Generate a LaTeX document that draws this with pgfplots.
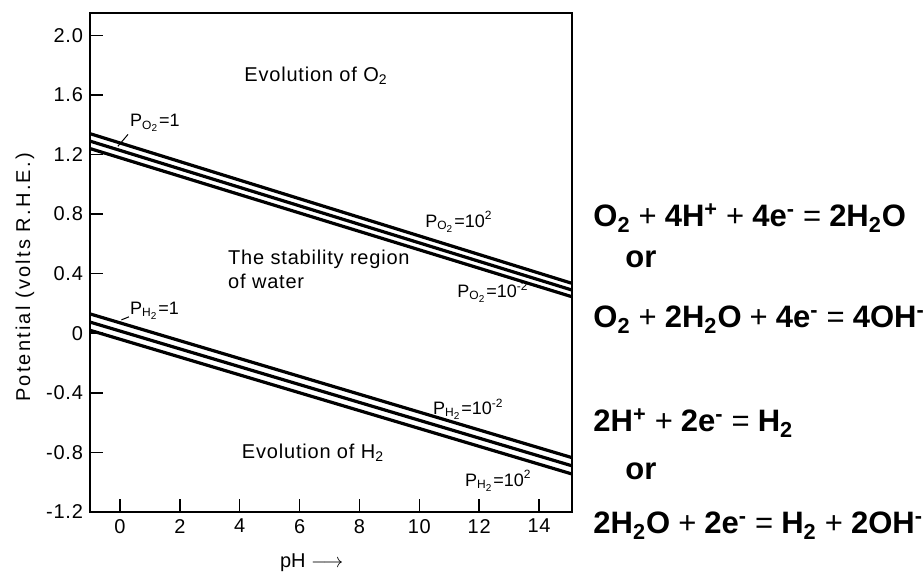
\documentclass[border=0pt]{standalone}
\usepackage{fontspec}
\setmainfont{Liberation Sans}
\usepackage{pgfplots}
\pgfplotsset{compat=1.18}
\newcommand{\pl}{\hspace{0.26em}{\mdseries +}\hspace{0.26em}}
\newcommand{\eqs}{\hspace{0.26em}{\mdseries =}\hspace{0.26em}}
\newcommand{\sbs}[1]{\textsubscript{#1}}
\newcommand{\sps}[1]{\textsuperscript{#1}}
\begin{document}
\begin{tikzpicture}
\useasboundingbox (0,0) rectangle (461.5pt,287pt);
\begin{axis}[
  at={(45pt,31pt)}, anchor=south west,
  scale only axis, width=241pt, height=249.5pt,
  xmin=-1, xmax=15.1, ymin=-1.2, ymax=2.15,
  axis line style={line width=1pt},
  xtick={0,2,4,6,8,10,12,14},
  ytick={-1.2,-0.8,-0.4,0,0.4,0.8,1.2,1.6,2.0},
  yticklabels={-1.2,-0.8,-0.4,0,0.4,0.8,1.2,1.6,2.0},
  xticklabels={0,2,4,6,8,10,12,14},
  xtick pos=bottom, ytick pos=left,
  tick align=inside,
  major tick length=6.5pt,
  tick style={line width=0.8pt, black},
  tick label style={font=\fontsize{10}{11}\selectfont\addfontfeatures{LetterSpace=4}},
  /pgf/number format/assume math mode=true,
  ylabel={Potential (volts R.H.E.)},
  ylabel style={at={(axis description cs:-0.135,0.47)}, anchor=center, font=\fontsize{10}{11}\selectfont\addfontfeatures{LetterSpace=11}},
  xlabel={pH $\longrightarrow$},
  xlabel style={at={(axis description cs:0.46,-0.102)}, anchor=center, font=\fontsize{10}{11}\selectfont},
  clip=false,
]
% O2 lines
\addplot[black, line width=1.6pt] coordinates {(-1,1.34) (15.1,0.335)};
\addplot[black, line width=1.6pt] coordinates {(-1,1.29) (15.1,0.29)};
\addplot[black, line width=1.6pt] coordinates {(-1,1.24) (15.1,0.245)};
% H2 lines
\addplot[black, line width=1.6pt] coordinates {(-1,0.13) (15.1,-0.835)};
\addplot[black, line width=1.6pt] coordinates {(-1,0.075) (15.1,-0.89)};
\addplot[black, line width=1.6pt] coordinates {(-1,0.02) (15.1,-0.945)};

\begin{scope}[font=\fontsize{10}{12}\selectfont\addfontfeatures{LetterSpace=4}]
\node at (axis cs:6.55,1.73) {Evolution of O\sbs{2}};
\node at (axis cs:6.45,-0.80) {Evolution of H\sbs{2}};
\node[anchor=west, align=left] at (axis cs:3.38,0.43) {The stability region\\of water};
\end{scope}
\begin{scope}[font=\fontsize{9}{10}\selectfont, inner sep=0pt]
\node[anchor=west] at (axis cs:0.33,1.41) {P\sbs{O\sbs{2}}=1};
\node[anchor=west] at (axis cs:10.19,0.75) {P\sbs{O\sbs{2}}=10\sps{2}};
\node[anchor=west] at (axis cs:11.26,0.275) {P\sbs{O\sbs{2}}=10\sps{-2}};
\node[anchor=west] at (axis cs:0.33,0.15) {P\sbs{H\sbs{2}}=1};
\node[anchor=west] at (axis cs:10.45,-0.51) {P\sbs{H\sbs{2}}=10\sps{-2}};
\node[anchor=west] at (axis cs:11.52,-0.99) {P\sbs{H\sbs{2}}=10\sps{2}};
\end{scope}
\draw[line width=0.5pt] (axis cs:-0.07,1.255) -- (axis cs:0.27,1.335);
\draw[line width=0.5pt] (axis cs:0.05,0.09) -- (axis cs:0.3,0.11);
\end{axis}
\begin{scope}[font=\fontsize{15.5}{17}\selectfont\bfseries, inner sep=0pt]
\node[anchor=base west] at (296.5pt,173.5pt) {O\sbs{2}\pl 4H\sps{+}\pl 4e\sps{-}\eqs 2H\sbs{2}O};
\node[anchor=base west] at (312.5pt,153pt) {or};
\node[anchor=base west] at (296.5pt,123pt) {O\sbs{2}\pl 2H\sbs{2}O\pl 4e\sps{-}\eqs 4OH\sps{-}};
\node[anchor=base west] at (296.5pt,71pt) {2H\sps{+}\pl 2e\sps{-}\eqs H\sbs{2}};
\node[anchor=base west] at (312.5pt,47pt) {or};
\node[anchor=base west] at (296.5pt,20pt) {2H\sbs{2}O\pl 2e\sps{-}\eqs H\sbs{2}\pl 2OH\sps{-}};
\end{scope}
\end{tikzpicture}
\end{document}
